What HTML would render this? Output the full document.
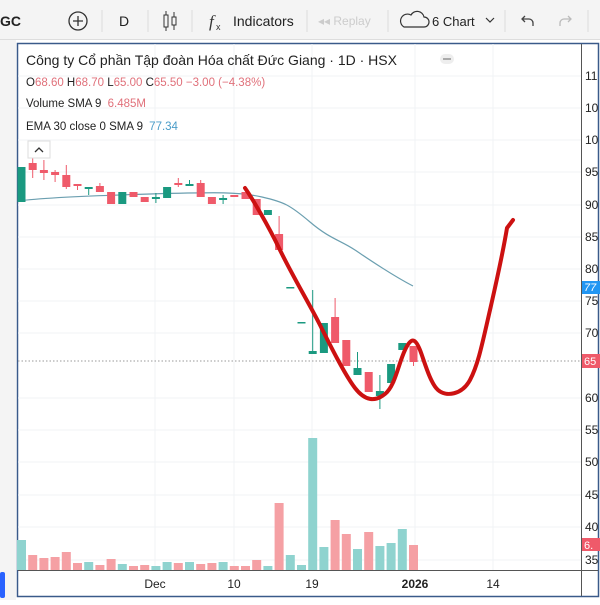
<!DOCTYPE html>
<html><head><meta charset="utf-8"><style>
body{margin:0;width:600px;height:600px;overflow:hidden;background:#fff;font-family:"Liberation Sans",sans-serif}
</style></head><body>
<svg id="s" width="600" height="600" xmlns="http://www.w3.org/2000/svg" font-family="Liberation Sans, sans-serif">
<rect width="600" height="600" fill="#fff"/>
<rect width="600" height="40" fill="#f4f4f4"/>
<line x1="0" y1="39.5" x2="600" y2="39.5" stroke="#ddd"/>
<rect x="0" y="40" width="16" height="560" fill="#f4f4f4"/>
<rect x="0" y="572" width="5" height="26" fill="#2962ff" rx="2"/>
<text x="0" y="26" font-size="14" font-weight="bold" fill="#222">GC</text>
<circle cx="78" cy="21" r="9" fill="none" stroke="#333" stroke-width="1.3"/>
<path d="M73 21h10M78 16v10" stroke="#333" stroke-width="1.3"/>
<line x1="102" y1="10" x2="102" y2="32" stroke="#ddd"/>
<text x="119" y="26" font-size="14" fill="#222">D</text>
<line x1="148" y1="10" x2="148" y2="32" stroke="#ddd"/>
<rect x="164" y="15" width="4" height="12" fill="none" stroke="#333"/><path d="M166 11v4M166 27v4" stroke="#333"/>
<rect x="172" y="17" width="4" height="8" fill="none" stroke="#333"/><path d="M174 12v5M174 25v5" stroke="#333"/>
<line x1="192" y1="10" x2="192" y2="32" stroke="#ddd"/>
<text x="209" y="27" font-size="17" font-style="italic" fill="#333" font-family="Liberation Serif, serif">f</text><text x="216" y="30" font-size="9" fill="#333">x</text>
<text x="233" y="26" font-size="14" fill="#222">Indicators</text>
<line x1="307" y1="10" x2="307" y2="32" stroke="#ddd"/>
<text x="318" y="25" font-size="12" fill="#ccc">◂◂ Replay</text>
<line x1="388" y1="10" x2="388" y2="32" stroke="#ddd"/>
<path d="M404 27h20a5 5 0 0 0 0-10a7 7 0 0 0-13-2a6 6 0 0 0-7 12z" fill="none" stroke="#333" stroke-width="1.2"/>
<text x="432" y="26" font-size="13" fill="#222">6 Chart</text>
<path d="M486 18l4 4 4-4" fill="none" stroke="#333" stroke-width="1.2"/>
<line x1="505" y1="10" x2="505" y2="32" stroke="#ddd"/>
<path d="M533 26v-3a4 4 0 0 0-4-4h-7m3-3l-3 3 3 3" fill="none" stroke="#444" stroke-width="1.3"/>
<path d="M560 26v-3a4 4 0 0 1 4-4h7m-3-3l3 3-3 3" fill="none" stroke="#bbb" stroke-width="1.3"/>
<line x1="588" y1="10" x2="588" y2="32" stroke="#ddd"/>
<rect x="17.5" y="43.5" width="581" height="553" fill="#fff" stroke="#3a5a8a" stroke-width="1.5"/>
<line x1="581.5" y1="44" x2="581.5" y2="596" stroke="#555"/>
<line x1="18" y1="570.5" x2="598" y2="570.5" stroke="#555"/>
<g id="grid" stroke="#f1f3f6"></g>
<g id="vol"></g>
<line x1="18" y1="361" x2="581" y2="361" stroke="#999" stroke-dasharray="1.5,2"/>
<path d="M18 201C40 198 80 196 150 194S240 192 262 197S290 205 310 222S340 240 355 250S390 274 413 286" fill="none" stroke="#6b9fb0" stroke-width="1.2"/>
<g id="cdl"></g>
<path d="M245 188C252 198 268 225 280 250S310 305 320 325S345 375 355 388S375 402 385 394S398 365 405 350S416 340 420 350S430 383 438 390S462 395 470 380S482 345 490 310S505 240 507 228L513 220" fill="none" stroke="#cc1111" stroke-width="4" stroke-linecap="round" stroke-linejoin="round"/>
<text x="26" y="65" font-size="14" fill="#222">Công ty Cổ phần Tập đoàn Hóa chất Đức Giang · 1D · HSX</text>
<rect x="440" y="54" width="14" height="10" rx="5" fill="#eee"/><rect x="443" y="58" width="8" height="2" fill="#aaa"/>
<text x="26" y="86" font-size="11.5" fill="#222">O<tspan fill="#e0707a">68.60</tspan> H<tspan fill="#e0707a">68.70</tspan> L<tspan fill="#e0707a">65.00</tspan> C<tspan fill="#e0707a">65.50</tspan> <tspan fill="#e0707a">−3.00 (−4.38%)</tspan></text>
<text x="26" y="107" font-size="11.5" fill="#222">Volume SMA 9 <tspan fill="#e0707a" dx="3">6.485M</tspan></text>
<text x="26" y="130" font-size="11.5" fill="#222">EMA 30 close 0 SMA 9 <tspan fill="#4a9cc8" dx="3">77.34</tspan></text>
<rect x="28" y="141" width="22" height="17" fill="#fff" stroke="#ddd"/>
<path d="M35 152l4-4 4 4" fill="none" stroke="#333" stroke-width="1.3"/>
<g id="ax" font-size="12" fill="#222"></g>
<rect x="582" y="281" width="18" height="13" fill="#2196f3"/><text x="584" y="291" font-size="11" fill="#fff" font-style="italic">77</text>
<rect x="582" y="354" width="18" height="14" fill="#ef5a6a"/><text x="584" y="365" font-size="11" fill="#fff">65</text>
<rect x="582" y="538" width="18" height="13" fill="#ef5a6a"/><text x="584" y="549" font-size="11" fill="#fff">6.</text>
<g font-size="12" fill="#222" text-anchor="middle">
<text x="155" y="588">Dec</text><text x="234" y="588">10</text><text x="312" y="588">19</text><text x="415" y="588" font-weight="bold">2026</text><text x="493" y="588">14</text>
</g>
</svg>
<script>
var NS="http://www.w3.org/2000/svg";
function el(p,t,a){var e=document.createElementNS(NS,t);for(var k in a)e.setAttribute(k,a[k]);document.getElementById(p).appendChild(e);return e;}
var ax=[["11",76],["10",108],["10",140],["95",172],["90",205],["85",237],["80",269],["75",301],["70",333],["60",398],["55",430],["50",462],["45",495],["40",527],["35",560]];
ax.forEach(function(a){var t=el("ax","text",{x:585,y:a[1]+4});t.textContent=a[0];el("grid","line",{x1:18,x2:581,y1:a[1],y2:a[1]});});
[155,234,312,415,493].forEach(function(x){el("grid","line",{x1:x,x2:x,y1:44,y2:570});});
var v=[["t",540],["p",555],["p",558],["p",557],["p",552],["p",563],["t",562],["p",565],["p",559],["t",564],["p",566],["p",565],["t",566],["t",562],["p",563],["t",562],["p",564],["p",563],["t",562],["p",566],["p",566],["p",560],["t",566],["p",503],["t",555],["t",565],["t",438],["t",547],["p",520],["p",534],["t",549],["p",532],["t",546],["t",543],["t",529],["p",545]];
v.forEach(function(b,i){var cx=21.5+i*11.2;el("vol","rect",{x:cx-4.5,y:b[1],width:9,height:570-b[1],fill:b[0]=="t"?"#8fd3cf":"#f5a0a4"});});
// candles: [color, bodyTop, bodyBot, wickTop, wickBot]
var c=[["t",167,202,167,202],["p",163,170,158,178],["p",170,173,160,180],["p",172,175,170,182],["p",175,187,165,189],["p",184,186,184,190],["t",187,189,187,195],["p",186,192,183,192],["p",192,204,192,204],["t",192,204,192,204],["p",192,197,192,197],["p",197,202,197,202],["t",197,199,193,203],["t",187,198,187,198],["p",183,185,178,187],["t",184,186,180,186],["p",183,197,180,197],["p",197,204,197,204],["t",198,200,195,204],["p",195,197,195,197],["p",192,199,192,199],["p",199,215,199,215],["t",210,215,210,215],["p",234,250,216,252],["t",287,288,287,288],["t",322,323,322,323],["t",351,354,290,354],["t",323,353,323,353],["p",317,343,298,343],["p",340,366,340,366],["t",368,375,352,375],["p",372,392,372,392],["t",391,396,375,409],["t",364,383,364,383],["t",343,350,343,350],["p",346,362,346,366]];
c.forEach(function(b,i){var cx=21.5+i*11.2,col=b[0]=="t"?"#1a9980":"#ef5a6a";
el("cdl","line",{x1:cx,x2:cx,y1:b[3],y2:b[4],stroke:col,"stroke-width":1});
el("cdl","rect",{x:cx-4,y:b[1],width:8,height:Math.max(1.5,b[2]-b[1]),fill:col});});
</script>
</body></html>
